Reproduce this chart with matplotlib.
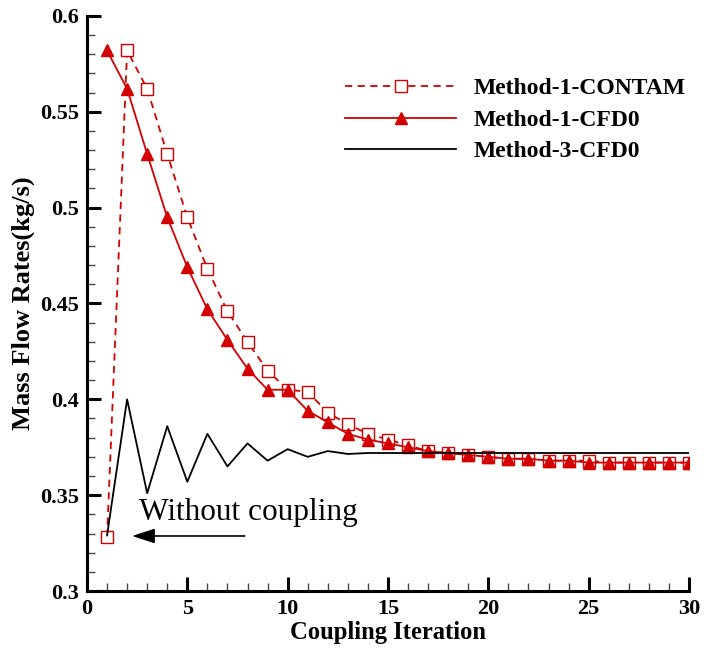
import numpy as np
import matplotlib
matplotlib.use("Agg")
import matplotlib.pyplot as plt
from matplotlib.ticker import MultipleLocator, FuncFormatter

# Coupling iterations and mass flow rates (kg/s)
iterations = list(range(1, 31))
method1_contam = [0.328, 0.582, 0.562, 0.528, 0.495, 0.468, 0.446, 0.430, 0.415, 0.405,
                  0.404, 0.393, 0.387, 0.382, 0.379, 0.376, 0.373, 0.372, 0.371, 0.370,
                  0.369, 0.369, 0.368, 0.368, 0.368, 0.367, 0.367, 0.367, 0.367, 0.367]
method1_cfd0 = [0.582, 0.562, 0.528, 0.495, 0.469, 0.447, 0.431, 0.416, 0.405, 0.405,
                0.394, 0.388, 0.382, 0.379, 0.377, 0.375, 0.373, 0.372, 0.371, 0.370,
                0.369, 0.369, 0.368, 0.368, 0.367, 0.367, 0.367, 0.367, 0.367, 0.367]
method3_cfd0 = [0.329, 0.400, 0.351, 0.386, 0.357, 0.382, 0.365, 0.377, 0.368, 0.374,
                0.370, 0.373, 0.3715, 0.372, 0.372, 0.372, 0.372, 0.372, 0.372, 0.372,
                0.372, 0.372, 0.372, 0.372, 0.372, 0.372, 0.372, 0.372, 0.372, 0.372]

red = "#d40000"
serif = ["Liberation Serif", "DejaVu Serif"]
plt.rcParams["font.family"] = serif

fig = plt.figure(figsize=(7.1, 6.55), dpi=100)
ax = fig.add_axes([0.1225, 0.0977, 0.8479, 0.8779])

ax.plot(iterations, method1_contam, "--", color=red, lw=1.3, marker="s", ms=8,
        mfc="white", mec=red, mew=1.0, dashes=(4, 3), label="Method-1-CONTAM")
ax.plot(iterations, method1_cfd0, "-", color=red, lw=1.3, marker="^", ms=9,
        mfc=red, mec=red, label="Method-1-CFD0")
ax.plot(iterations, method3_cfd0, "-", color="black", lw=1.3, label="Method-3-CFD0")

# "without coupling" arrow pointing back to the first iteration
ax.annotate("", xy=(2.1, 0.3287), xytext=(8.0, 0.3287),
            arrowprops=dict(arrowstyle="-|>,head_length=1.4,head_width=0.45",
                            color="black", lw=1.2))
ax.text(2.6, 0.341, "Without coupling", fontsize=22.5, ha="left", va="center")

ax.set_xlim(0, 30)
ax.set_ylim(0.3, 0.6)
ax.xaxis.set_major_locator(MultipleLocator(5))
ax.xaxis.set_minor_locator(MultipleLocator(1))
ax.yaxis.set_major_locator(MultipleLocator(0.05))
ax.yaxis.set_minor_locator(MultipleLocator(0.01))
ax.yaxis.set_major_formatter(FuncFormatter(lambda v, p: f"{v:.2f}".rstrip("0").rstrip(".")))

for side in ["top", "right"]:
    ax.spines[side].set_visible(False)
for side in ["left", "bottom"]:
    ax.spines[side].set_linewidth(2.2)

ax.tick_params(which="major", direction="in", length=10, width=2.2, labelsize=16, pad=6)
ax.tick_params(which="minor", direction="in", length=5.5, width=1.0, color="#444444")
for lab in ax.get_xticklabels() + ax.get_yticklabels():
    lab.set_fontweight("bold")

ax.set_xlabel("Coupling Iteration", fontsize=17.7, fontweight="bold", labelpad=1)
ax.set_ylabel("Mass Flow Rates(kg/s)", fontsize=19, fontweight="bold", labelpad=3)

leg = ax.legend(loc="upper left", bbox_to_anchor=(0.486, 0.881), bbox_transform=fig.transFigure,
                frameon=False, fontsize=17, handlelength=4.7, handletextpad=0.75,
                labelspacing=0.42, borderpad=0, borderaxespad=0)
for t in leg.get_texts():
    t.set_fontweight("bold")

fig.savefig("out.png", dpi=100)
